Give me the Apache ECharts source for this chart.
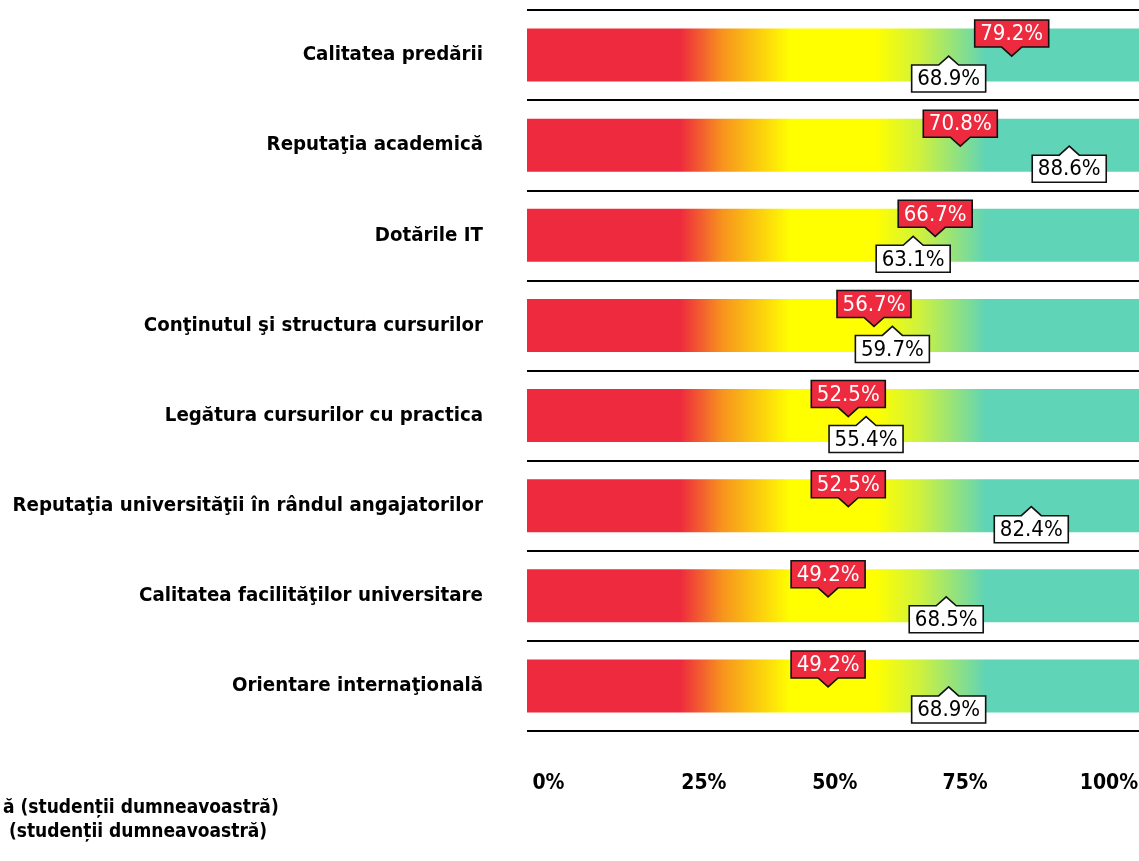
<!DOCTYPE html>
<html>
<head>
<meta charset="utf-8">
<script src="https://cdn.jsdelivr.net/npm/echarts@6/dist/echarts.min.js"></script>
<style>
html,body{margin:0;padding:0;background:#fff;}
#chart{width:1139px;height:861px;}
</style>
</head>
<body>
<div id="chart"></div>
<script>
// ---- data ----
const categories = [
  'Calitatea predării',
  'Reputaţia academică',
  'Dotările IT',
  'Conţinutul şi structura cursurilor',
  'Legătura cursurilor cu practica',
  'Reputaţia universităţii în rândul angajatorilor',
  'Calitatea facilităţilor universitare',
  'Orientare internaţională'
];
const redValues   = [79.2, 70.8, 66.7, 56.7, 52.5, 52.5, 49.2, 49.2];
const whiteValues = [68.9, 88.6, 63.1, 59.7, 55.4, 82.4, 68.5, 68.9];
const scaleMax = 100;
const tickLabels = ['0%', '25%', '50%', '75%', '100%'];
const tickLabelPositions = [3.5, 28.9, 50.3, 71.6, 95.1];
const seriesNames = ['ă (studenții dumneavoastră)', ' (studenții dumneavoastră)'];

const FONT = '"DejaVu Sans Condensed", "Liberation Sans Narrow", "Arial Narrow", sans-serif';
const RED = '#EE2A3E';

function calloutItem(above, fill, textColor) {
  return function (params, api) {
    const p = api.coord([api.value(0), api.value(1)]);
    const x = p[0];
    const tip = p[1] + 1;
    const w = 74, h = 27, pw = 10, ph = 9;
    const l = x - w / 2, r = x + w / 2;
    let pts, cy;
    if (above) {
      const bot = tip - ph, top = bot - h;
      pts = [[l, top], [r, top], [r, bot], [x + pw, bot], [x, tip], [x - pw, bot], [l, bot]];
      cy = (top + bot) / 2;
    } else {
      const top = tip + ph, bot = top + h;
      pts = [[l, top], [x - pw, top], [x, tip], [x + pw, top], [r, top], [r, bot], [l, bot]];
      cy = (top + bot) / 2;
    }
    return {
      type: 'group',
      children: [
        { type: 'polygon', shape: { points: pts },
          style: { fill: fill, stroke: '#111', lineWidth: 1.6 } },
        { type: 'text',
          style: { text: api.value(0).toFixed(1) + '%', x: x, y: cy + 1,
                   align: 'center', verticalAlign: 'middle',
                   font: '22px ' + FONT, fill: textColor } }
      ]
    };
  };
}

const chart = echarts.init(document.getElementById('chart'), null, { renderer: 'canvas' });
chart.setOption({
  backgroundColor: '#ffffff',
  animation: false,
  grid: { left: 527, right: 0, top: 10, bottom: 130, containLabel: false, outerBoundsMode: 'none' },
  legend: {
    orient: 'vertical',
    left: -28,
    top: 794,
    itemWidth: 20,
    itemHeight: 14,
    itemGap: 5,
    icon: 'rect',
    data: seriesNames,
    textStyle: { fontFamily: FONT, fontWeight: 'bold', fontSize: 19, color: '#000' }
  },
  xAxis: {
    type: 'value', min: 0, max: scaleMax,
    axisLine: { show: false }, axisTick: { show: false }, splitLine: { show: false },
    axisLabel: {
      customValues: tickLabelPositions,
      margin: 42,
      fontFamily: FONT, fontWeight: 'bold', fontSize: 21, color: '#000',
      formatter: function (v) {
        const i = tickLabelPositions.indexOf(v);
        return i >= 0 ? tickLabels[i] : '';
      }
    }
  },
  yAxis: {
    type: 'category', inverse: true, data: categories,
    axisLine: { show: false }, axisTick: { show: false },
    splitLine: { show: true, lineStyle: { color: '#000', width: 2 } },
    axisLabel: { margin: 44, fontFamily: FONT, fontWeight: 'bold', fontSize: 20.3, color: '#000' }
  },
  series: [
    {
      type: 'bar', name: 'scale', barWidth: 53, silent: true,
      data: categories.map(() => scaleMax),
      itemStyle: {
        color: new echarts.graphic.LinearGradient(0, 0, 1, 0, [
          { offset: 0.00, color: RED },
          { offset: 0.25, color: RED },
          { offset: 0.32, color: '#F7941E' },
          { offset: 0.43, color: '#FFFF00' },
          { offset: 0.57, color: '#FFFF00' },
          { offset: 0.64, color: '#D0F23C' },
          { offset: 0.70, color: '#93E27E' },
          { offset: 0.75, color: '#5FD4B7' },
          { offset: 1.00, color: '#5FD4B7' }
        ])
      }
    },
    {
      type: 'custom', name: seriesNames[0],
      itemStyle: { color: RED, borderColor: '#111', borderWidth: 1 },
      encode: { x: 0, y: 1 },
      data: redValues.map((v, i) => [v, i]),
      renderItem: calloutItem(true, RED, '#ffffff'),
      z: 5
    },
    {
      type: 'custom', name: seriesNames[1],
      itemStyle: { color: '#ffffff', borderColor: '#111', borderWidth: 1 },
      encode: { x: 0, y: 1 },
      data: whiteValues.map((v, i) => [v, i]),
      renderItem: calloutItem(false, '#ffffff', '#000000'),
      z: 4
    }
  ]
});
</script>
</body>
</html>
